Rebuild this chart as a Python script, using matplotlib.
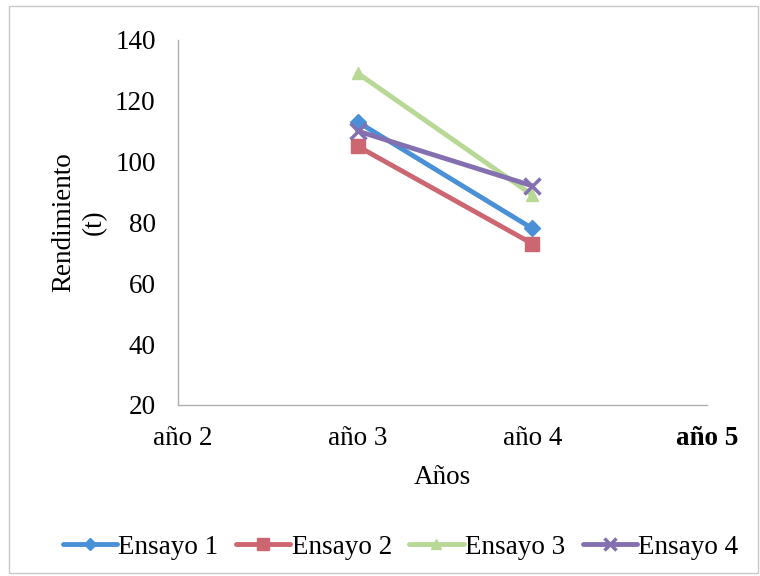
import matplotlib.pyplot as plt

# data
years = ["año 2", "año 3", "año 4", "año 5"]
x_pos = [1, 2]  # only año 3 and año 4 carry values
ensayo1 = [113, 78]
ensayo2 = [105, 73]
ensayo3 = [129, 89]
ensayo4 = [110, 92]

series_names = ["Ensayo 1", "Ensayo 2", "Ensayo 3", "Ensayo 4"]
series_vals = [ensayo1, ensayo2, ensayo3, ensayo4]
colors = ["#4a90d6", "#cc6670", "#b8d896", "#8470b0"]
markers = ["D", "s", "^", "x"]
msizes = [8, 10, 9, 11]

FS = 19.5

plt.rcParams['font.family'] = ['Liberation Serif', 'DejaVu Serif']

fig = plt.figure(figsize=(7.6, 5.76), dpi=100)
ax = fig.add_axes([0.234, 0.297, 0.696, 0.634])

for name, vals, c, m, ms in zip(series_names, series_vals, colors, markers, msizes):
    ax.plot(x_pos, vals, color=c, lw=3.5, marker=m, markersize=ms,
            markeredgewidth=2.5 if m == "x" else 1, label=name, solid_capstyle='round')

ax.set_xlim(-0.03, 3.0)
ax.set_ylim(20, 140)
ax.set_yticks(range(20, 141, 20))
ax.set_xticks(range(len(years)))
ax.set_xticklabels(years)
ax.tick_params(length=0, labelsize=FS)
ax.tick_params(axis='x', pad=15)
ax.tick_params(axis='y', pad=16)
for lbl in ax.get_xticklabels()[-1:]:
    lbl.set_fontweight('bold')

for s in ['top', 'right']:
    ax.spines[s].set_visible(False)
for s in ['left', 'bottom']:
    ax.spines[s].set_color('#b0b0b0')
    ax.spines[s].set_linewidth(1)

ax.set_xlabel("Años", fontsize=FS, labelpad=10)
ax.set_ylabel("Rendimiento\n(t)", fontsize=FS, labelpad=6, linespacing=1.3)

fig.legend(loc='center', bbox_to_anchor=(0.527, 0.05), ncol=4, frameon=False,
           fontsize=FS, handlelength=2.0, handletextpad=0.05, columnspacing=0.65,
           markerscale=0.8)

# light frame around the whole picture
fig.patches.append(plt.Rectangle((0.012, 0.005), 0.985, 0.985, transform=fig.transFigure,
                                 fill=False, edgecolor='#c8c8c8', lw=1))

fig.savefig("out.png", dpi=100)
